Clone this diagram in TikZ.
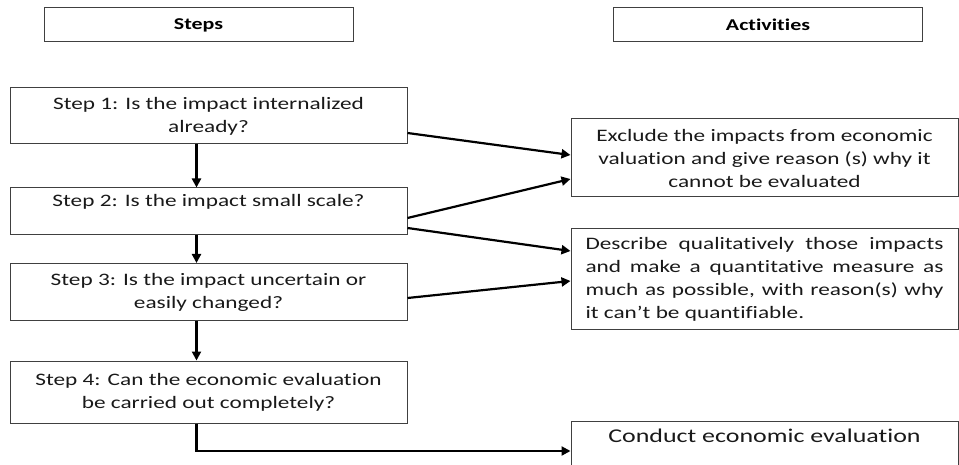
\documentclass[tikz,border=0pt]{standalone}
\usepackage{fontspec}
\setmainfont[FakeStretch=1.33, Ligatures=NoCommon]{Carlito}
\usetikzlibrary{arrows.meta}
\begin{document}
\begin{tikzpicture}[x=1pt, y=-1pt, thick,
        box/.style={draw=black!75, line width=1pt, rectangle, text=black!90, font=\fontsize{17.5}{23}\selectfont, align=center, inner sep=2pt},
        headbox/.style={draw=black!75, line width=1pt, rectangle, minimum width=309pt, minimum height=34pt, font=\fontsize{16.5}{18}\selectfont\bfseries},
        flow/.style={-{Triangle[length=9pt,width=9pt]}, line width=2.2pt}]
        \useasboundingbox (0,0) rectangle (959,465);
        \clip (0,0) rectangle (959,465);
        % Headers
        \node[headbox] (steps) at (198.5,25) {Steps};
        \node[headbox] (acts) at (768,25) {Activities};
        
        % Steps
        \node[box, minimum width=397pt, minimum height=56pt] (s1) at (208.5,116) {Step 1: Is the impact internalized\\already?};
        \node[box, minimum width=397pt, minimum height=47pt] (s2) at (208.5,211.5) {Step 2: Is the impact small scale?\\~};
        \node[box, minimum width=397pt, minimum height=57pt] (s3) at (208.5,292) {Step 3: Is the impact uncertain or\\easily changed?};
        \node[box, minimum width=397pt, minimum height=62pt] (s4) at (208.5,392) {Step 4: Can the economic evaluation\\be carried out completely?};
        
        % Activities
        \node[box, minimum width=387pt, minimum height=78pt] (excl) at (764.5,158) {Exclude the impacts from economic\\valuation and give reason (s) why it\\cannot be evaluated};
        \node[box, align=left, minimum width=387pt, minimum height=100pt] (desc) at (764.5,279) {\makebox[358pt][s]{Describe qualitatively those impacts}\\\makebox[358pt][s]{and make a quantitative measure as}\\\makebox[358pt][s]{much as possible, with reason(s) why}\\\makebox[358pt][l]{it can’t be quantifiable.}};
        \node[box, font=\fontsize{19.5}{23}\selectfont, minimum width=387pt, text height=19pt, text depth=36pt, anchor=north] (conduct) at (764.5,421) {Conduct economic evaluation};
        
        % Arrows
        \draw[flow] ([xshift=-12pt]s1.south) -- ([xshift=-12pt]s2.north);
        \draw[flow] ([xshift=-12pt]s2.south) -- ([xshift=-12pt]s3.north);
        \draw[flow] ([xshift=-12pt]s3.south) -- ([xshift=-12pt]s4.north);
        \draw[flow] ([xshift=-12pt]s4.south) |- (conduct.west);
        \draw[flow] ([yshift=-17pt]s1.east) -- ([yshift=3pt]excl.west);
        \draw[flow] ([yshift=-6.5pt]s2.east) -- ([yshift=-21pt]excl.west);
        \draw[flow] ([yshift=-16.5pt]s2.east) -- ([yshift=28pt]desc.west);
        \draw[flow] ([yshift=-6pt]s3.east) -- ([yshift=-2pt]desc.west);
    \end{tikzpicture}
\end{document}
